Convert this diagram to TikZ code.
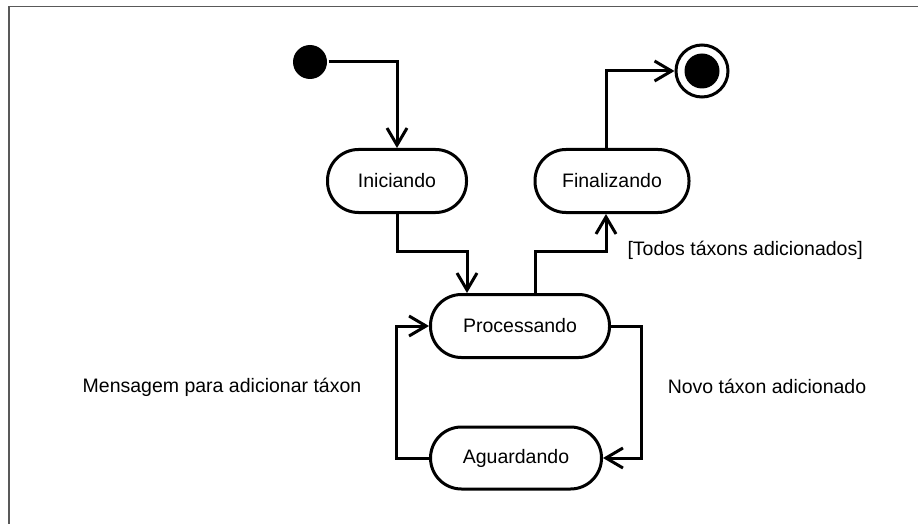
\documentclass[tikz,border=0pt]{standalone}
\usepackage{fontspec}
\setmainfont{Liberation Sans}
\usetikzlibrary{arrows.meta}

\begin{document}
\begin{tikzpicture}[x=1pt,y=-1pt,line width=3pt,font=\fontsize{19.5}{23}\selectfont,
  state/.style={draw,rectangle,rounded corners=31pt,minimum height=63pt,inner sep=0pt},
  initial/.style={circle,fill,minimum size=34pt,inner sep=0pt},
  final/.style={circle,draw,minimum size=52pt,inner sep=0pt},
  trans/.style={-{Straight Barb[length=17pt,width=20pt,line width=3pt]}}]
\useasboundingbox (0,0) rectangle (918,524);
\draw[line width=1.5pt,black!65] (9,524)--(9,6.5)--(918,6.5);
\node[initial] (start) at (310,62) {};
\node[final] (end) at (702,71) {};
\fill (end.center) circle (17.5);
\node[state,minimum width=139pt] (ini) at (397,181) {Iniciando};
\node[state,minimum width=154pt] (fin) at (612,181) {Finalizando};
\node[state,minimum width=179pt] (proc) at (520,326) {Processando};
\node[state,minimum width=171pt,minimum height=62pt] (agu) at (516,458) {Aguardando};
\coordinate (midrow) at (0,251);
\coordinate (lft) at (396,0);
\coordinate (rgt) at (641,0);
\draw[trans] (start.east) -| (ini.north);
\draw[trans] (ini.south) -- (ini.south |- midrow) -| ([xshift=-53pt]proc.north);
\draw[trans] ([xshift=15pt]proc.north) -- ([xshift=15pt]proc.north |- midrow) -| ([xshift=-6pt]fin.south);
\draw[trans] ([xshift=-6pt]fin.north) |- (end);
\draw[trans] (proc.east) -- (proc.east -| rgt) |- (agu.east);
\draw[trans] (agu.west) -- (agu.west -| lft) |- (proc.west);
\node[anchor=west,inner sep=0pt] (guard) at (626,250) {[Todos táxons adicionados]};
\node[inner sep=0pt] (msg) at (222,387) {Mensagem para adicionar táxon};
\node[inner sep=0pt] (novo) at (767,386) {Novo táxon adicionado};
\end{tikzpicture}
\end{document}
